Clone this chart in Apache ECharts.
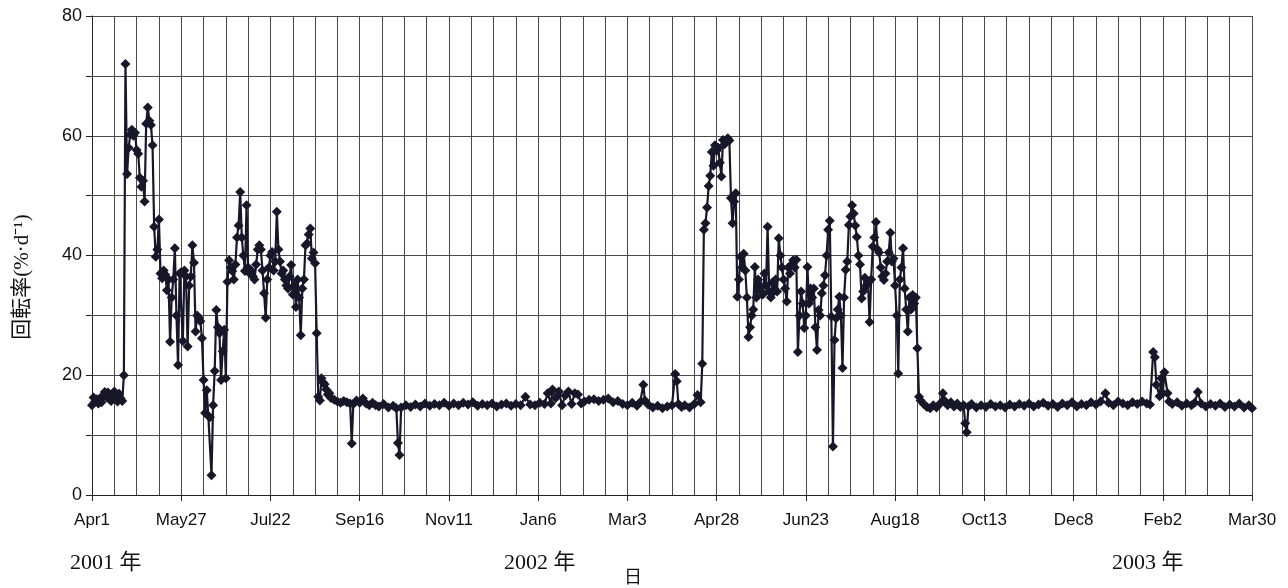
<!doctype html>
<html lang="ja">
 <head>
  <meta charset="UTF-8">
  <style type="text/css">
  html,body{margin:0;padding:0;background:#fff;}
  #ecm1{width:1288px;height:588px;}
  </style>
  <script src="https://cdn.jsdelivr.net/npm/echarts@6/dist/echarts.min.js"></script>
  <title>回転率</title>
 </head>
 <body>
    <div id="ecm1"></div>
    <script type="text/javascript">
    // x軸のラベル（56日ごと）
    var tickLabels = ["Apr1","May27","Jul22","Sep16","Nov11","Jan6","Mar3","Apr28","Jun23","Aug18","Oct13","Dec8","Feb2","Mar30"];
    var yearLabels = ["2001 年","2002 年","2003 年"];
    var yearPos = [70, 504, 1112];

    // 2001/4/1 からの日数
    var days = [
      0,1,2,3,4,5,6,7,8,9,10,11,12,13,14,15,16,17,18,19,
      20,21,22,23,24,25,26,27,28,29,30,31,32,33,34,35,36,37,38,39,
      40,41,42,43,44,45,46,47,48,49,50,51,52,53,54,55,56,57,58,59,
      60,61,62,63,64,65,66,67,68,69,70,71,72,73,74,75,76,77,78,79,
      80,81,82,83,84,85,86,87,88,89,90,91,92,93,94,95,96,97,98,99,
      100,101,102,103,104,105,106,107,108,109,110,111,112,113,114,115,116,117,118,119,
      120,121,122,123,124,125,126,127,128,129,130,131,132,133,134,135,136,137,138,139,
      140,141,142,143,144,145,146,147,148,149,150,152,154,156,158,160,162,163,164,166,
      168,170,172,174,176,178,180,183,186,189,191,192,193,194,197,200,203,206,209,212,
      215,218,221,224,227,230,233,236,239,242,245,248,251,254,257,260,263,266,269,272,
      275,278,281,284,286,288,289,291,293,295,297,299,301,303,305,307,309,312,315,318,
      321,324,327,330,333,336,339,342,344,346,347,349,352,355,358,361,364,366,367,368,
      370,372,375,378,380,382,383,384,385,386,387,388,389,390,391,392,393,394,395,396,
      397,398,399,400,401,402,403,404,405,406,407,408,409,410,411,412,413,414,415,416,
      417,418,419,420,421,422,423,424,425,426,427,428,429,430,431,432,433,434,435,436,
      437,438,439,440,441,442,443,444,445,446,447,448,449,450,451,452,453,454,455,456,
      457,458,459,460,461,462,463,464,465,466,467,468,469,470,471,472,473,474,475,476,
      477,478,479,480,481,482,483,484,485,486,487,488,489,490,491,492,493,494,495,496,
      497,498,499,500,501,502,503,504,505,506,507,508,509,510,511,512,513,514,515,516,
      517,518,519,520,522,524,526,528,530,532,534,535,537,539,541,543,545,547,548,549,
      550,552,555,558,561,564,567,570,573,576,579,582,585,588,591,594,597,600,603,606,
      609,612,615,618,621,624,627,630,633,636,638,641,644,647,650,653,656,659,662,664,
      666,667,668,670,671,672,673,675,676,678,681,684,687,690,692,694,696,699,702,705,
      708,711,714,717,720,723,726,728
    ];
    // 回転率 (%·d-1)
    var rates = [
      15.0,16.3,15.6,16.0,15.3,16.1,15.5,16.6,17.2,16.4,17.1,16.0,15.7,16.6,17.3,16.2,15.6,16.9,16.1,15.7,
      20.0,72.0,53.6,58.0,60.2,61.0,60.0,60.5,57.6,57.0,53.0,51.5,52.5,49.0,62.0,64.7,62.5,61.8,58.4,44.8,
      39.8,41.0,46.0,37.0,36.2,37.5,36.8,34.2,36.0,25.6,33.0,36.0,41.2,30.0,21.7,37.0,37.2,25.7,37.5,36.5,
      24.8,35.0,36.5,41.7,38.8,27.3,30.0,29.6,29.0,26.2,19.2,13.7,17.5,13.2,13.0,3.3,15.0,20.7,30.9,28.0,
      27.0,19.2,24.0,27.6,19.5,35.6,39.2,38.0,37.4,36.0,38.5,43.0,45.0,50.6,43.0,40.0,37.4,48.4,38.0,37.0,
      37.5,36.5,36.0,38.5,41.0,41.7,41.0,37.5,33.7,29.6,36.0,38.0,40.0,40.6,37.5,39.0,47.3,41.0,39.0,37.0,
      37.5,36.0,35.0,34.5,36.5,38.4,33.5,35.0,31.4,36.0,33.0,26.7,34.5,36.0,41.7,42.0,43.5,44.5,39.5,40.5,
      38.7,27.0,16.4,15.8,19.5,18.8,18.5,17.6,16.8,17.0,16.2,15.9,15.6,15.4,15.7,15.5,15.3,8.6,15.2,15.8,
      15.4,16.1,15.3,15.0,15.4,15.0,14.8,15.2,14.6,14.9,14.5,8.7,6.7,14.6,15.0,14.7,15.1,14.8,15.3,14.9,
      15.2,15.0,15.4,14.9,15.3,15.0,15.4,15.1,15.5,14.9,15.2,15.0,15.3,14.8,15.1,15.3,14.9,15.2,15.0,16.4,
      15.1,15.0,15.4,15.2,17.0,15.3,17.6,16.2,17.3,15.0,16.6,17.3,15.2,17.0,16.8,15.3,15.6,15.9,16.0,15.7,
      15.9,16.1,15.5,15.7,15.2,15.0,15.4,14.9,15.5,18.4,15.8,15.1,14.6,14.9,14.5,14.8,15.0,20.2,19.0,15.2,
      14.7,15.0,14.6,15.2,16.7,15.5,21.9,44.3,45.4,48.0,51.6,53.3,57.3,55.0,58.4,57.5,58.0,55.5,53.2,59.3,
      58.6,59.0,59.6,59.2,49.6,45.4,49.0,50.4,33.1,36.0,39.8,38.0,40.3,37.5,33.0,26.4,28.0,30.0,31.0,38.1,
      33.0,36.0,35.0,34.0,33.5,37.0,35.0,44.8,34.0,33.0,35.5,34.0,36.0,34.0,42.9,40.0,38.0,36.0,34.5,32.3,
      38.0,37.0,38.5,39.2,38.0,39.3,23.9,30.0,34.0,32.0,27.9,30.0,38.1,32.0,34.5,33.0,34.5,28.0,24.2,30.9,
      30.0,33.7,35.0,36.7,40.0,44.3,45.8,29.8,8.1,25.9,29.5,31.0,33.1,30.0,21.2,33.0,37.6,39.0,45.1,46.5,
      48.4,47.0,45.0,43.1,40.0,38.5,32.8,34.0,36.3,35.0,35.5,28.9,36.0,41.5,43.0,45.6,41.0,40.5,38.0,36.5,
      35.9,37.0,39.0,40.5,43.8,39.0,39.5,35.0,30.0,20.3,36.0,38.0,41.2,34.5,31.0,27.3,33.0,31.0,33.4,32.0,
      33.0,24.5,16.4,15.8,15.2,14.7,14.5,15.0,14.6,15.2,17.0,15.8,15.0,15.5,14.8,15.3,14.7,15.0,12.0,10.5,
      14.8,15.2,14.6,15.0,14.7,15.2,14.8,15.0,14.6,15.1,14.8,15.2,14.9,15.3,14.8,15.1,15.4,14.9,15.2,14.7,
      15.3,15.0,15.5,14.8,15.2,15.0,15.5,15.1,15.6,17.0,15.4,15.0,15.6,15.3,15.0,15.5,15.2,15.6,15.3,15.1,
      23.9,23.0,18.4,16.5,19.5,17.0,20.5,17.0,15.6,15.2,15.5,14.9,15.3,15.0,15.4,17.2,15.3,14.8,15.2,14.9,
      15.3,14.7,15.1,14.8,15.3,14.6,15.0,14.5
    ];

    var lineColor = '#17172a';
    var gridColor = '#4a4a4a';
    var labelFont = '"Liberation Sans", Arial, sans-serif';
    var serifFont = '"Liberation Serif", "Noto Sans CJK JP", serif';

    var seriesData = [];
    for (var i = 0; i < days.length; i++) {
        seriesData.push([days[i], rates[i]]);
    }

    var myChart = echarts.init(document.getElementById('ecm1'));
    var option1 = {
        animation: false,
        backgroundColor: '#fff',
        grid: {
            left: 92,
            right: 36,
            top: 16,
            bottom: 93
        },
        xAxis: {
            type: 'value',
            min: 0,
            max: 728,
            interval: 56,
            axisLine: { lineStyle: { color: '#222', width: 1 } },
            axisTick: { show: true, length: 6, lineStyle: { color: '#222' } },
            minorTick: { show: false, splitNumber: 4 },
            splitLine: { show: true, lineStyle: { color: gridColor, width: 1 } },
            minorSplitLine: { show: true, lineStyle: { color: gridColor, width: 1 } },
            axisLabel: {
                margin: 17,
                color: '#111',
                fontSize: 17,
                fontFamily: labelFont,
                formatter: function (v) {
                    return tickLabels[Math.round(v / 56)] || '';
                }
            }
        },
        yAxis: {
            type: 'value',
            min: 0,
            max: 80,
            interval: 20,
            axisLine: { show: true, lineStyle: { color: '#222', width: 1 } },
            axisTick: { show: true, length: 6, lineStyle: { color: '#222' } },
            minorTick: { show: true, splitNumber: 2, length: 6, lineStyle: { color: '#222' } },
            splitLine: { show: true, lineStyle: { color: gridColor, width: 1 } },
            minorSplitLine: { show: true, lineStyle: { color: gridColor, width: 1 } },
            axisLabel: {
                margin: 10,
                color: '#111',
                fontSize: 18,
                fontFamily: labelFont
            }
        },
        graphic: [
            {
                type: 'text',
                x: 22,
                y: 277,
                rotation: Math.PI / 2,
                style: {
                    text: '回転率(%·d⁻¹)',
                    fontSize: 21,
                    fontFamily: serifFont,
                    fill: '#111',
                    align: 'center',
                    verticalAlign: 'middle'
                }
            },
            {
                type: 'text', x: yearPos[0], y: 563,
                style: { text: yearLabels[0], fontSize: 22, fontFamily: serifFont, fill: '#111', verticalAlign: 'middle' }
            },
            {
                type: 'text', x: yearPos[1], y: 563,
                style: { text: yearLabels[1], fontSize: 22, fontFamily: serifFont, fill: '#111', verticalAlign: 'middle' }
            },
            {
                type: 'text', x: yearPos[2], y: 563,
                style: { text: yearLabels[2], fontSize: 22, fontFamily: serifFont, fill: '#111', verticalAlign: 'middle' }
            },
            {
                type: 'text', x: 633, y: 578,
                style: { text: '日', fontSize: 18, fontFamily: serifFont, fill: '#111', align: 'center', verticalAlign: 'middle' }
            }
        ],
        series: [{
            name: '回転率',
            type: 'line',
            data: seriesData,
            symbol: 'diamond',
            symbolSize: 10,
            showAllSymbol: true,
            itemStyle: { color: lineColor },
            lineStyle: { color: lineColor, width: 2.2 }
        }]
    };
    myChart.setOption(option1);
    </script>
 </body>
</html>
